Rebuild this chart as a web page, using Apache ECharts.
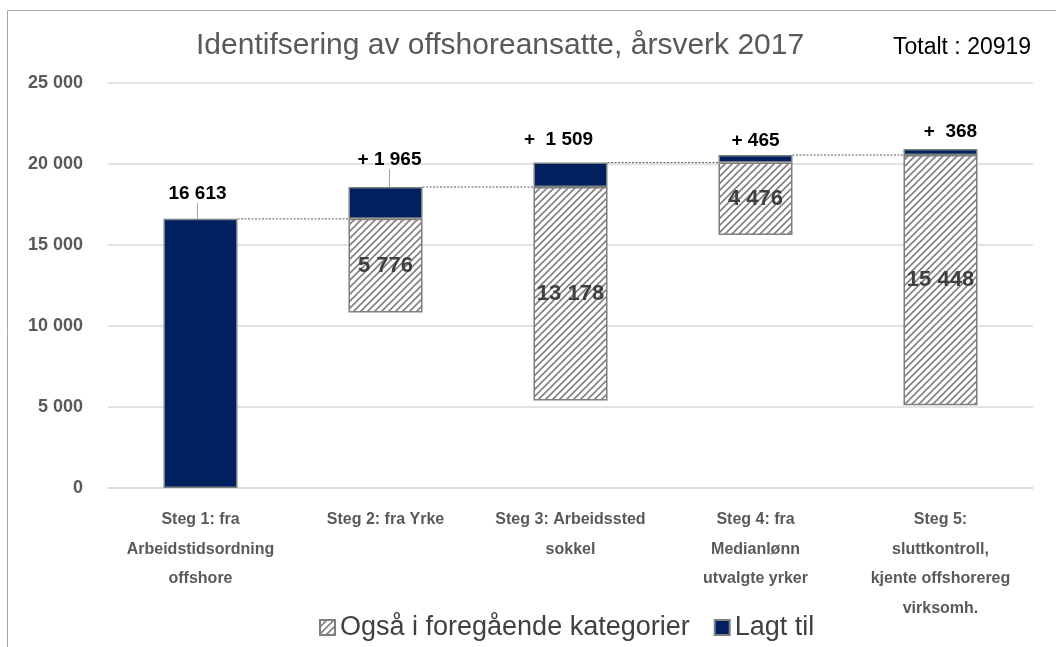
<!DOCTYPE html>
<html>
<head>
<meta charset="utf-8">
<title>Identifsering av offshoreansatte</title>
<script src="https://cdn.jsdelivr.net/npm/echarts@6/dist/echarts.min.js"></script>
<style>
  html, body { margin: 0; padding: 0; background: #fff; }
  #main { width: 1056px; height: 647px; }
</style>
</head>
<body>
<div id="main"></div>
<script>
// data
var steps = [
  'Steg 1: fra\nArbeidstidsordning\noffshore',
  'Steg 2: fra Yrke',
  'Steg 3: Arbeidssted\nsokkel',
  'Steg 4: fra\nMedianlønn\nutvalgte yrker',
  'Steg 5:\nsluttkontroll,\nkjente offshorereg\nvirksomh.'
];
var added = [16613, 1965, 1509, 465, 368];          // Lagt til
var alsoBefore = [0, 5776, 13178, 4476, 15448];     // Også i foregående kategorier
var addedPrefix = ['', '+ ', '+  ', '+ ', '+  '];
var yTicks = [0, 5000, 10000, 15000, 20000, 25000];

// running totals and invisible base for the hatched part
var totals = [], base = [];
var run = 0;
for (var i = 0; i < added.length; i++) {
  base.push(run - alsoBefore[i]);
  run += added[i];
  totals.push(run);
}

function fmt(v) {
  return String(v).replace(/\B(?=(\d{3})+(?!\d))/g, ' ');
}

// diagonal hatch pattern
function hatch() {
  var s = 7;
  var c = document.createElement('canvas');
  c.width = s; c.height = s;
  var ctx = c.getContext('2d');
  ctx.fillStyle = '#ffffff';
  ctx.fillRect(0, 0, s, s);
  ctx.strokeStyle = '#808080';
  ctx.lineWidth = 1.6;
  ctx.beginPath();
  ctx.moveTo(0, s); ctx.lineTo(s, 0);
  ctx.moveTo(-2, 2); ctx.lineTo(2, -2);
  ctx.moveTo(s - 2, s + 2); ctx.lineTo(s + 2, s - 2);
  ctx.stroke();
  return c;
}
var hatchFill = { image: hatch(), repeat: 'repeat' };

var labelMove = [[-3, -11], [4, -13], [-12, -8], [0, 0], [10, -3]];

var chart = echarts.init(document.getElementById('main'));
var NAVY = '#002060';

var option = {
  animation: false,
  textStyle: { fontFamily: 'Liberation Sans, sans-serif' },
  grid: { left: 108, right: 23, top: 83, bottom: 159 },
  legend: {
    bottom: 1,
    left: 314,
    icon: 'rect',
    itemWidth: 15,
    itemHeight: 15,
    itemGap: 24,
    data: ['Også i foregående kategorier', 'Lagt til'],
    textStyle: { fontSize: 27, color: '#404040' }
  },
  xAxis: {
    type: 'category',
    data: steps,
    axisLine: { lineStyle: { color: '#d9d9d9', width: 1.5 } },
    axisTick: { show: false },
    axisLabel: {
      interval: 0,
      margin: 17,
      color: '#595959',
      fontWeight: 'bold',
      fontSize: 16,
      lineHeight: 29.5
    }
  },
  yAxis: {
    type: 'value',
    min: yTicks[0],
    max: yTicks[yTicks.length - 1],
    interval: 5000,
    axisLine: { show: false },
    axisTick: { show: false },
    splitLine: { lineStyle: { color: '#d9d9d9', width: 1.5 } },
    axisLabel: {
      margin: 25,
      color: '#595959',
      fontWeight: 'bold',
      fontSize: 18,
      formatter: fmt
    }
  },
  graphic: [
    {
      type: 'rect', silent: true,
      shape: { x: 7.5, y: 10.5, width: 1200, height: 800 },
      style: { fill: 'none', stroke: '#a6a6a6', lineWidth: 1 }
    },
    {
      type: 'text', left: 196, top: 31,
      style: {
        text: 'Identifsering av offshoreansatte, årsverk 2017',
        fontSize: 30, fontWeight: 300, fill: '#595959',
        fontFamily: 'Liberation Sans, sans-serif'
      }
    },
    {
      type: 'text', left: 893, top: 36,
      style: {
        text: 'Totalt : 20919',
        fontSize: 23, fill: '#000',
        fontFamily: 'Liberation Sans, sans-serif'
      }
    }
  ],
  series: [
    {
      name: 'base',
      type: 'bar',
      stack: 'w',
      barWidth: '40%',
      silent: true,
      itemStyle: { color: 'transparent' },
      data: base
    },
    {
      name: 'Også i foregående kategorier',
      type: 'bar',
      stack: 'w',
      itemStyle: { color: hatchFill, borderColor: '#7f7f7f', borderWidth: 1.5 },
      label: {
        show: true,
        position: 'inside',
        fontSize: 22,
        fontWeight: 'bold',
        color: '#404040',
        formatter: function (p) { return p.value ? fmt(p.value) : ''; }
      },
      data: alsoBefore.map(function (v) { return v || null; })
    },
    {
      name: 'Lagt til',
      type: 'bar',
      stack: 'w',
      itemStyle: { color: NAVY, borderColor: '#7f7f7f', borderWidth: 1.5 },
      label: {
        show: true,
        position: 'top',
        distance: 5,
        fontSize: 19,
        fontWeight: 'bold',
        color: '#000',
        formatter: function (p) { return addedPrefix[p.dataIndex] + fmt(p.value); }
      },
      labelLayout: function (p) {
        return { dx: labelMove[p.dataIndex][0], dy: labelMove[p.dataIndex][1] };
      },
      labelLine: { show: false, lineStyle: { color: '#a6a6a6', width: 1 } },
      data: added.map(function (v, i) {
        return { value: v, labelLine: { show: i < 2 } };
      })
    },
    {
      name: 'series lines',
      type: 'custom',
      silent: true,
      z: 3,
      data: totals.slice(0, totals.length - 1).map(function (t, i) { return [i, t]; }),
      renderItem: function (params, api) {
        var i = api.value(0);
        var t = api.value(1);
        var band = api.size([1, 0])[0];
        var p1 = api.coord([i, t]);
        var p2 = api.coord([i + 1, t]);
        return {
          type: 'line',
          shape: { x1: p1[0] + band * 0.2, y1: p1[1], x2: p2[0] - band * 0.2, y2: p2[1] },
          style: { stroke: '#595959', lineWidth: 1, lineDash: [2, 1.5] }
        };
      }
    }
  ]
};

chart.setOption(option);
</script>
</body>
</html>
